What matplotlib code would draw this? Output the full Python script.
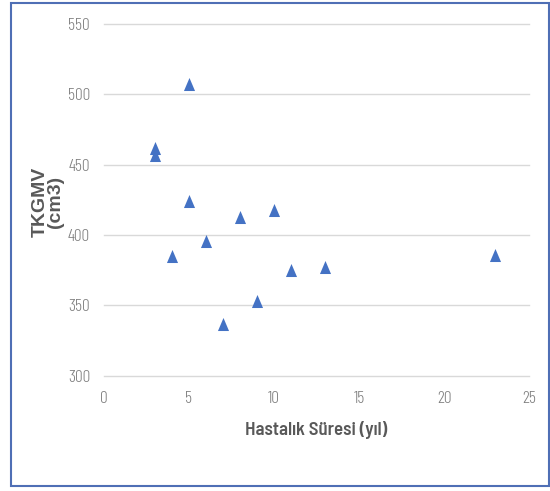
import matplotlib
matplotlib.use('Agg')
import matplotlib.pyplot as plt
from matplotlib.patches import Rectangle

# veri
sure = [3, 3, 5, 5, 4, 6, 7, 8, 9, 10, 11, 13, 23]
tkgmv = [462, 457, 507, 424, 385, 396, 337, 413, 353, 418, 375, 377, 386]
x_ticks = [0, 5, 10, 15, 20, 25]
y_ticks = [300, 350, 400, 450, 500, 550]

W, H = 550, 491
fig = plt.figure(figsize=(W / 100, H / 100), dpi=100, facecolor='white')

# eksen konumu (piksel)
x0, x1 = 104, 529
y0, y1 = 375.7, 24
ax = fig.add_axes([x0 / W, 1 - y0 / H, (x1 - x0) / W, (y0 - y1) / H])
ax.set_xlim(0, 25)
ax.set_ylim(300, 550)
ax.set_xticks(x_ticks)
ax.set_yticks(y_ticks)
for s in ax.spines.values():
    s.set_visible(False)
ax.grid(axis='y', color='#d9d9d9', lw=1.0)
for gl in ax.get_ygridlines():
    gl.set_clip_on(False)
ax.set_axisbelow(True)

tick_font = ['Barlow Condensed', 'DejaVu Sans']
ax.tick_params(length=0, colors='#7f7f7f', labelsize=12.5)
ax.tick_params(axis='x', pad=11)
ax.tick_params(axis='y', pad=10)
for lbl in ax.get_xticklabels() + ax.get_yticklabels():
    lbl.set_family(tick_font)
    lbl.set_fontweight(300)

tri = [(0, 1), (-0.85, -1), (0.85, -1)]
ax.plot(sure, tkgmv, ls='none', marker=tri, ms=9.4,
        color='#4472c4', mew=0, zorder=3)

ax.set_xlabel('Hastalık Süresi (yıl)', family=['Barlow Semi Condensed', 'DejaVu Sans'],
              fontsize=13.5, fontweight=600, color='#595959', labelpad=10)

fig.text(48 / W, 1 - 202 / H, 'TKGMV\n(cm3)', rotation=90, ha='center',
         va='center', multialignment='center', fontsize=14,
         family=['Liberation Sans', 'DejaVu Sans'],
         fontweight='bold', color='#595959', linespacing=0.9)

# dış çerçeve
fig.patches.append(Rectangle((11 / W, 1 - 486 / H), (549 - 11) / W,
                             (486 - 3) / H, transform=fig.transFigure,
                             fill=False, edgecolor='#4f6fb5', lw=1.5))

fig.savefig('out.png', dpi=100, facecolor='white')
